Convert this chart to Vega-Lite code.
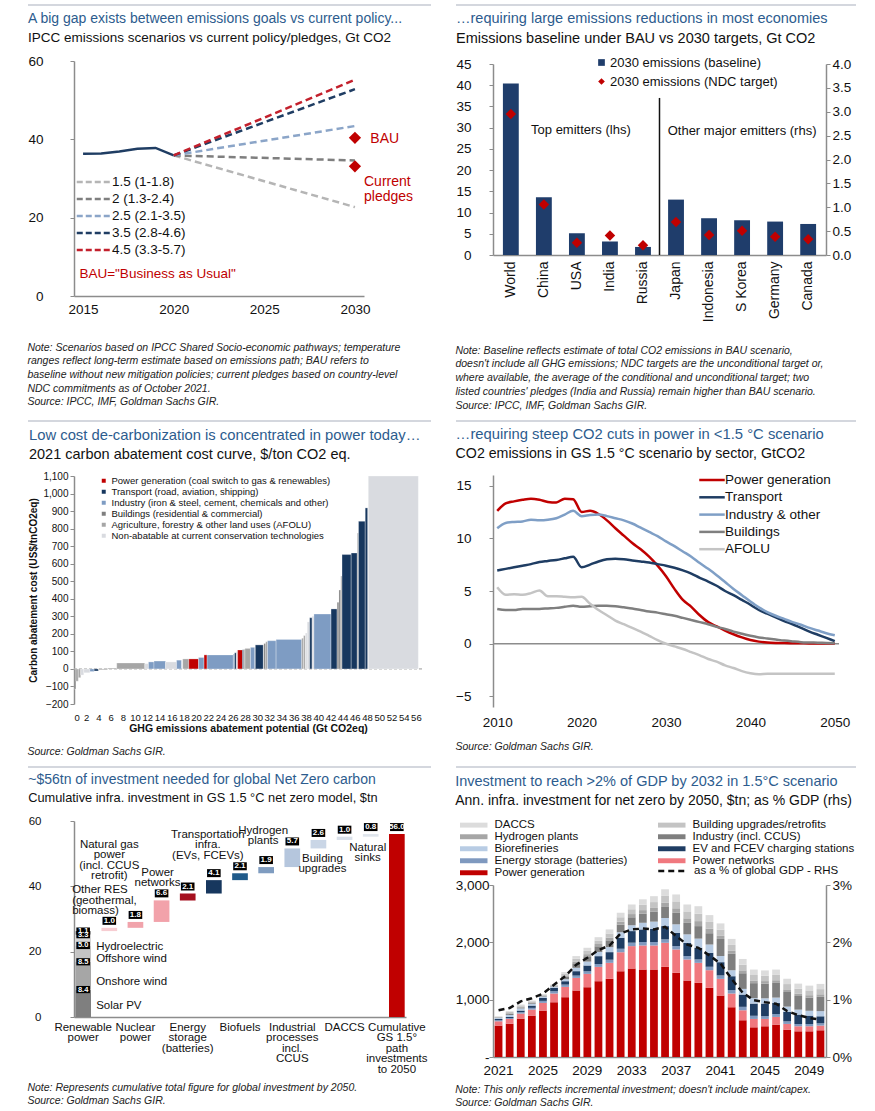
{
  "$schema": "https://vega.github.io/schema/vega-lite/v6.json",
  "background": "white",
  "padding": {"left": 27, "top": 4, "right": 0, "bottom": 0},
  "config": {
    "font": "Liberation Sans",
    "view": {"stroke": null},
    "axis": {"grid": false, "domainColor": "#8c8c8c", "tickColor": "#8c8c8c", "domainWidth": 1.5, "tickSize": 4, "labelColor": "#111", "titleColor": "#111", "labelFont": "Liberation Sans", "titleFont": "Liberation Sans"},
    "legend": {"labelFont": "Liberation Sans", "labelColor": "#111", "titleFont": "Liberation Sans"},
    "title": {"font": "Liberation Sans", "subtitleFont": "Liberation Sans", "anchor": "start", "fontWeight": "normal", "fontSize": 14.5, "subtitleFontSize": 14.5, "color": "#2d5c8e", "subtitleColor": "#111", "subtitlePadding": 5, "offset": 10},
    "text": {"font": "Liberation Sans"}
  },
  "resolve": {"scale": {"color": "independent", "strokeDash": "independent", "shape": "independent"}, "legend": {"color": "independent", "strokeDash": "independent"}},
  "columns": 2,
  "spacing": {"row": 8, "column": 23},
  "concat": [
    {
      "spacing": 5,
      "resolve": {"scale": {"color": "independent", "strokeDash": "independent"}, "legend": {"color": "independent", "strokeDash": "independent"}},
      "title": {"text": ["Note: Scenarios based on IPCC Shared Socio-economic pathways; temperature", "ranges reflect long-term estimate based on emissions path; BAU refers to", "baseline without new mitigation policies; current pledges based on country-level", "NDC commitments as of October 2021.", "Source: IPCC, IMF, Goldman Sachs GIR."], "orient": "bottom", "anchor": "start", "fontSize": 10.5, "fontStyle": "italic", "color": "#222", "lineHeight": 13.7, "offset": 27},
      "vconcat": [
        {"width": 357, "height": 1, "data": {"values": [{"a": -0.1289, "b": 1}]}, "mark": {"type": "rule", "color": "#a9b0bd", "strokeWidth": 1.2}, "encoding": {"x": {"field": "a", "type": "quantitative", "scale": {"domain": [0, 1]}, "axis": null}, "x2": {"field": "b"}, "y": {"datum": 0, "type": "quantitative", "scale": {"domain": [0, 1]}, "axis": null}}},
        {
          "width": 290, "height": 235,
          "title": {"text": "A big gap exists between emissions goals vs current policy...", "subtitle": "IPCC emissions scenarios vs current policy/pledges, Gt CO2", "fontSize": 14, "subtitleFontSize": 13.5},
          "layer": [
            {"data": {"values": [{"year": 2015, "v": 36.3}, {"year": 2016, "v": 36.4}, {"year": 2017, "v": 36.9}, {"year": 2018, "v": 37.6}, {"year": 2019, "v": 37.8}, {"year": 2020, "v": 35.9}]},
             "mark": {"type": "line", "color": "#1f3d63", "strokeWidth": 2.5},
             "encoding": {"x": {"field": "year", "type": "quantitative", "scale": {"domain": [2014.5, 2030.5], "nice": false}, "axis": {"values": [2015, 2020, 2025, 2030], "format": "d", "title": null, "labelFontSize": 13.5, "ticks": false, "labelPadding": 6}},
                          "y": {"field": "v", "type": "quantitative", "scale": {"domain": [0, 60]}, "axis": {"values": [0, 10, 20, 30, 40, 50, 60], "title": null, "labelFontSize": 13.5, "labelPadding": 27}}}},
            {"data": {"values": [
              {"s": "1.5 (1-1.8)", "year": 2020, "v": 35.9}, {"s": "1.5 (1-1.8)", "year": 2030, "v": 22.7},
              {"s": "2 (1.3-2.4)", "year": 2020, "v": 35.9}, {"s": "2 (1.3-2.4)", "year": 2030, "v": 34.6},
              {"s": "2.5 (2.1-3.5)", "year": 2020, "v": 35.9}, {"s": "2.5 (2.1-3.5)", "year": 2030, "v": 43.4},
              {"s": "3.5 (2.8-4.6)", "year": 2020, "v": 35.9}, {"s": "3.5 (2.8-4.6)", "year": 2030, "v": 52.8},
              {"s": "4.5 (3.3-5.7)", "year": 2020, "v": 35.9}, {"s": "4.5 (3.3-5.7)", "year": 2030, "v": 55.2}]},
             "mark": {"type": "line", "strokeWidth": 2.5, "strokeDash": [7, 4]},
             "encoding": {"x": {"field": "year", "type": "quantitative"}, "y": {"field": "v", "type": "quantitative"},
                          "color": {"field": "s", "type": "nominal", "scale": {"domain": ["1.5 (1-1.8)", "2 (1.3-2.4)", "2.5 (2.1-3.5)", "3.5 (2.8-4.6)", "4.5 (3.3-5.7)"], "range": ["#b5b5b5", "#7f7f7f", "#8ba5c8", "#1f3d63", "#c3202c"]},
                                    "legend": {"orient": "none", "legendX": 11, "legendY": 112, "title": null, "symbolType": "M-2.3,0L2.3,0", "symbolDash": [6, 3], "symbolStrokeWidth": 2.5, "symbolSize": 225, "labelFontSize": 13.5, "rowPadding": 1, "labelOffset": 9}}}},
            {"data": {"values": [{"year": 2030, "v": 40.4}, {"year": 2030, "v": 33.1}]},
             "mark": {"type": "point", "shape": "diamond", "filled": true, "color": "#c00000", "size": 150, "opacity": 1},
             "encoding": {"x": {"field": "year", "type": "quantitative"}, "y": {"field": "v", "type": "quantitative"}}},
            {"data": {"values": [{}]}, "mark": {"type": "text", "align": "left", "color": "#c00000", "fontSize": 14, "text": "BAU"}, "encoding": {"x": {"datum": 2030.85}, "y": {"datum": 40.2}}},
            {"data": {"values": [{}]}, "mark": {"type": "text", "align": "left", "color": "#c00000", "fontSize": 14, "text": ["Current", "pledges"], "lineHeight": 15}, "encoding": {"x": {"datum": 2030.5}, "y": {"datum": 29.0}}},
            {"data": {"values": [{}]}, "mark": {"type": "text", "align": "left", "color": "#c00000", "fontSize": 13.5, "text": "BAU=\"Business as Usual\""}, "encoding": {"x": {"datum": 2014.8}, "y": {"datum": 5.5}}}
          ]
        }
      ]
    },
    {
      "spacing": 5,
      "resolve": {"scale": {"color": "independent", "strokeDash": "independent"}, "legend": {"color": "independent", "strokeDash": "independent"}},
      "title": {"text": ["Note: Baseline reflects estimate of total CO2 emissions in BAU scenario,", "doesn't include all GHG emissions; NDC targets are the unconditional target or,", "where available, the average of the conditional and unconditional target; two", "listed countries' pledges (India and Russia) remain higher than BAU scenario.", "Source: IPCC, IMF, Goldman Sachs GIR."], "orient": "bottom", "anchor": "start", "fontSize": 10.5, "fontStyle": "italic", "color": "#222", "lineHeight": 13.7, "offset": 24},
      "vconcat": [
        {"width": 363, "height": 1, "data": {"values": [{"a": -0.1019, "b": 1}]}, "mark": {"type": "rule", "color": "#a9b0bd", "strokeWidth": 1.2}, "encoding": {"x": {"field": "a", "type": "quantitative", "scale": {"domain": [0, 1]}, "axis": null}, "x2": {"field": "b"}, "y": {"datum": 0, "type": "quantitative", "scale": {"domain": [0, 1]}, "axis": null}}},
        {
          "width": 333, "height": 191,
          "title": {"text": "…requiring large emissions reductions in most economies", "subtitle": "Emissions baseline under BAU vs 2030 targets, Gt CO2"},
          "resolve": {"scale": {"x": "independent", "y": "independent"}},
          "layer": [
            {"data": {"values": [{"c": "World", "base": 40.4, "ndc": 33.2}, {"c": "China", "base": 13.6, "ndc": 11.9}, {"c": "USA", "base": 5.1, "ndc": 2.9}, {"c": "India", "base": 3.2, "ndc": 4.6}, {"c": "Russia", "base": 1.9, "ndc": 2.3}]},
             "encoding": {"x": {"field": "c", "type": "nominal", "sort": null, "scale": {"domain": ["World", "China", "USA", "India", "Russia", "Japan", "Indonesia", "S Korea", "Germany", "Canada"], "paddingInner": 0.52, "paddingOuter": 0.3}, "axis": {"title": null, "labelAngle": 270, "labelFontSize": 14, "ticks": false, "labelPadding": 6}}},
             "layer": [
               {"mark": {"type": "bar"}, "encoding": {"y": {"field": "base", "type": "quantitative", "scale": {"domain": [0, 45]}, "axis": {"values": [0, 5, 10, 15, 20, 25, 30, 35, 40, 45], "title": null, "labelFontSize": 13.5, "labelOverlap": false, "labelPadding": 18}},
                 "color": {"datum": "2030 emissions (baseline)", "type": "nominal", "scale": {"domain": ["2030 emissions (baseline)", "2030 emissions (NDC target)"], "range": ["#1f3d6b", "#c00000"]},
                   "legend": {"orient": "none", "legendX": 102, "legendY": -8, "title": null, "symbolType": "square", "symbolSize": 45, "labelFontSize": 13, "rowPadding": 5, "labelOffset": 2, "symbolOpacity": 1, "labelLimit": 300,
                     "encode": {"symbols": {"update": {"shape": {"signal": "datum.label == '2030 emissions (NDC target)' ? 'diamond' : 'square'"}}}}}}}},
               {"mark": {"type": "point", "shape": "diamond", "filled": true, "size": 110, "opacity": 1}, "encoding": {"y": {"field": "ndc", "type": "quantitative", "axis": {"values": [0, 5, 10, 15, 20, 25, 30, 35, 40, 45], "title": null, "labelFontSize": 13.5, "labelOverlap": false, "labelPadding": 18}}, "color": {"datum": "2030 emissions (NDC target)", "type": "nominal"}}}
             ]},
            {"data": {"values": [{"c": "Japan", "base": 1.16, "ndc": 0.69}, {"c": "Indonesia", "base": 0.77, "ndc": 0.42}, {"c": "S Korea", "base": 0.73, "ndc": 0.51}, {"c": "Germany", "base": 0.70, "ndc": 0.38}, {"c": "Canada", "base": 0.65, "ndc": 0.33}]},
             "encoding": {"x": {"field": "c", "type": "nominal", "sort": null, "scale": {"domain": ["World", "China", "USA", "India", "Russia", "Japan", "Indonesia", "S Korea", "Germany", "Canada"], "paddingInner": 0.52, "paddingOuter": 0.3}, "axis": null}},
             "layer": [
               {"mark": {"type": "bar"}, "encoding": {"y": {"field": "base", "type": "quantitative", "scale": {"domain": [0, 4]}, "axis": {"orient": "right", "values": [0, 0.5, 1, 1.5, 2, 2.5, 3, 3.5, 4], "format": ".1f", "title": null, "labelFontSize": 13.5, "labelOverlap": false}},
                 "color": {"datum": "2030 emissions (baseline)", "type": "nominal"}}},
               {"mark": {"type": "point", "shape": "diamond", "filled": true, "size": 110, "opacity": 1}, "encoding": {"y": {"field": "ndc", "type": "quantitative", "axis": {"orient": "right", "values": [0, 0.5, 1, 1.5, 2, 2.5, 3, 3.5, 4], "format": ".1f", "title": null, "labelFontSize": 13.5, "labelOverlap": false}}, "color": {"datum": "2030 emissions (NDC target)", "type": "nominal"}}}
             ]},
            {"data": {"values": [{"a": 1}]},
             "encoding": {"x": {"datum": 0.5, "type": "quantitative", "scale": {"domain": [0, 1]}, "axis": null}},
             "layer": [
               {"mark": {"type": "rule", "color": "#111", "strokeWidth": 1.5}, "encoding": {"y": {"datum": 37, "type": "quantitative", "scale": {"domain": [0, 45]}, "axis": null}, "y2": {"datum": 0}}},
               {"mark": {"type": "text", "fontSize": 13, "color": "#111", "text": "Top emitters (lhs)"}, "encoding": {"x": {"datum": 0.264, "type": "quantitative"}, "y": {"datum": 29.5, "type": "quantitative"}}},
               {"mark": {"type": "text", "fontSize": 13, "color": "#111", "text": "Other major emitters (rhs)"}, "encoding": {"x": {"datum": 0.748, "type": "quantitative"}, "y": {"datum": 29.3, "type": "quantitative"}}}
             ]}
          ]
        }
      ]
    },
    {
      "spacing": 5,
      "resolve": {"scale": {"color": "independent", "strokeDash": "independent"}, "legend": {"color": "independent", "strokeDash": "independent"}},
      "title": {"text": ["Source: Goldman Sachs GIR."], "orient": "bottom", "anchor": "start", "fontSize": 10.5, "fontStyle": "italic", "color": "#222", "lineHeight": 13.5, "offset": 13},
      "vconcat": [
        {"width": 357, "height": 1, "data": {"values": [{"a": -0.1289, "b": 1}]}, "mark": {"type": "rule", "color": "#a9b0bd", "strokeWidth": 1.2}, "encoding": {"x": {"field": "a", "type": "quantitative", "scale": {"domain": [0, 1]}, "axis": null}, "x2": {"field": "b"}, "y": {"datum": 0, "type": "quantitative", "scale": {"domain": [0, 1]}, "axis": null}}},
        {
          "width": 348, "height": 228,
          "title": {"text": "Low cost de-carbonization is concentrated in power today…", "subtitle": "2021 carbon abatement cost curve, $/ton CO2 eq.", "fontSize": 14.8},
          "layer": [
            {"data": {"values": [{}]}, "mark": {"type": "rule", "color": "#9a9a9a", "strokeWidth": 1, "strokeDash": [3, 2]}, "encoding": {"y": {"datum": 0, "type": "quantitative", "scale": {"domain": [-200, 1100], "nice": false}, "axis": {"values": [-200, -100, 0, 100, 200, 300, 400, 500, 600, 700, 800, 900, 1000, 1100], "format": ",d", "title": "Carbon abatement cost (US$/tnCO2eq)", "titleFontSize": 10, "titleFontWeight": "bold", "titlePadding": 4, "labelFontSize": 10, "labelOverlap": false}}}},
            {"data": {"values": [
              {"x0": 0.0, "x1": 0.3, "c": -115, "cat": "B"}, {"x0": 0.3, "x1": 0.7, "c": -70, "cat": "A"}, {"x0": 0.7, "x1": 1.1, "c": -50, "cat": "A"},
              {"x0": 1.1, "x1": 1.6, "c": -35, "cat": "N"}, {"x0": 1.6, "x1": 2.6, "c": -22, "cat": "N"}, {"x0": 2.6, "x1": 3.3, "c": -15, "cat": "I"},
              {"x0": 3.3, "x1": 4.0, "c": -12, "cat": "T"}, {"x0": 4.0, "x1": 5.5, "c": -5, "cat": "A"}, {"x0": 5.5, "x1": 7.0, "c": 5, "cat": "A"},
              {"x0": 7.0, "x1": 11.6, "c": 34, "cat": "A"}, {"x0": 11.6, "x1": 12.2, "c": 30, "cat": "N"}, {"x0": 12.2, "x1": 13.1, "c": 40, "cat": "I"},
              {"x0": 13.1, "x1": 15.0, "c": 45, "cat": "I"}, {"x0": 15.0, "x1": 16.8, "c": 40, "cat": "N"}, {"x0": 16.8, "x1": 17.6, "c": 50, "cat": "I"},
              {"x0": 17.8, "x1": 18.8, "c": 57, "cat": "A"}, {"x0": 18.8, "x1": 20.4, "c": 57, "cat": "P"}, {"x0": 20.4, "x1": 21.3, "c": 65, "cat": "I"},
              {"x0": 21.3, "x1": 21.8, "c": 80, "cat": "P"}, {"x0": 21.8, "x1": 26.1, "c": 80, "cat": "I"}, {"x0": 26.1, "x1": 26.3, "c": 85, "cat": "I"},
              {"x0": 26.3, "x1": 26.6, "c": 92, "cat": "T"}, {"x0": 26.6, "x1": 26.8, "c": 100, "cat": "N"}, {"x0": 26.8, "x1": 27.6, "c": 108, "cat": "P"},
              {"x0": 27.6, "x1": 27.8, "c": 110, "cat": "T"}, {"x0": 27.8, "x1": 28.0, "c": 112, "cat": "A"}, {"x0": 28.0, "x1": 28.9, "c": 117, "cat": "A"},
              {"x0": 28.9, "x1": 29.6, "c": 123, "cat": "I"}, {"x0": 29.7, "x1": 31.0, "c": 137, "cat": "T"}, {"x0": 31.1, "x1": 31.4, "c": 145, "cat": "B"},
              {"x0": 31.4, "x1": 31.7, "c": 155, "cat": "A"}, {"x0": 31.7, "x1": 33.1, "c": 161, "cat": "I"}, {"x0": 33.1, "x1": 37.3, "c": 168, "cat": "I"},
              {"x0": 37.3, "x1": 37.6, "c": 175, "cat": "A"}, {"x0": 37.6, "x1": 37.9, "c": 190, "cat": "A"}, {"x0": 37.9, "x1": 38.2, "c": 205, "cat": "N"},
              {"x0": 38.2, "x1": 38.6, "c": 268, "cat": "N"}, {"x0": 38.6, "x1": 39.0, "c": 292, "cat": "T"}, {"x0": 39.0, "x1": 39.3, "c": 300, "cat": "N"},
              {"x0": 39.3, "x1": 42.1, "c": 313, "cat": "I"}, {"x0": 42.1, "x1": 43.1, "c": 342, "cat": "T"}, {"x0": 43.1, "x1": 43.4, "c": 380, "cat": "B"},
              {"x0": 43.4, "x1": 43.7, "c": 450, "cat": "B"}, {"x0": 43.7, "x1": 43.9, "c": 530, "cat": "A"}, {"x0": 43.9, "x1": 45.4, "c": 652, "cat": "T"},
              {"x0": 45.4, "x1": 46.4, "c": 661, "cat": "T"}, {"x0": 46.4, "x1": 46.6, "c": 775, "cat": "A"}, {"x0": 46.6, "x1": 47.7, "c": 842, "cat": "T"},
              {"x0": 47.7, "x1": 48.1, "c": 918, "cat": "T"}, {"x0": 48.2, "x1": 56.4, "c": 1100, "cat": "N"}]},
             "mark": {"type": "rect", "stroke": "white", "strokeWidth": 0.3},
             "encoding": {
               "x": {"field": "x0", "type": "quantitative", "scale": {"domain": [0, 57], "nice": false}, "axis": {"values": [0, 2, 4, 6, 8, 10, 12, 14, 16, 18, 20, 22, 24, 26, 28, 30, 32, 34, 36, 38, 40, 42, 44, 46, 48, 50, 52, 54, 56], "title": "GHG emissions abatement potential (Gt CO2eq)", "titleFontSize": 10.5, "titleFontWeight": "bold", "titlePadding": 2, "labelFontSize": 9.5, "domain": false, "ticks": false, "labelPadding": 8, "labelOverlap": false}},
               "x2": {"field": "x1"},
               "y": {"field": "c", "type": "quantitative", "axis": {"values": [-200, -100, 0, 100, 200, 300, 400, 500, 600, 700, 800, 900, 1000, 1100], "format": ",d", "title": "Carbon abatement cost (US$/tnCO2eq)", "titleFontSize": 10, "titleFontWeight": "bold", "titlePadding": 4, "labelFontSize": 10, "labelOverlap": false}},
               "y2": {"datum": 0},
               "color": {"field": "cat", "type": "nominal", "scale": {"domain": ["P", "T", "I", "B", "A", "N"], "range": ["#c00000", "#17375e", "#7e9cc3", "#7f7f7f", "#a6a6a6", "#d9dbe0"]},
                 "legend": {"orient": "none", "legendX": 25, "legendY": 0, "title": null, "symbolType": "square", "symbolSize": 30, "labelFontSize": 9.5, "rowPadding": -3, "labelOffset": 3, "symbolOpacity": 1, "labelLimit": 300,
                   "labelExpr": "{'P': 'Power generation (coal switch to gas & renewables)', 'T': 'Transport (road, aviation, shipping)', 'I': 'Industry (iron & steel, cement, chemicals and other)', 'B': 'Buildings (residential & commercial)', 'A': 'Agriculture, forestry & other land uses (AFOLU)', 'N': 'Non-abatable at current conservation technologies'}[datum.label]"}}
             }}
          ]
        }
      ]
    },
    {
      "spacing": 5,
      "resolve": {"scale": {"color": "independent", "strokeDash": "independent"}, "legend": {"color": "independent", "strokeDash": "independent"}},
      "title": {"text": ["Source: Goldman Sachs GIR."], "orient": "bottom", "anchor": "start", "fontSize": 10.5, "fontStyle": "italic", "color": "#222", "lineHeight": 13.5, "offset": 13},
      "vconcat": [
        {"width": 363, "height": 1, "data": {"values": [{"a": -0.1019, "b": 1}]}, "mark": {"type": "rule", "color": "#a9b0bd", "strokeWidth": 1.2}, "encoding": {"x": {"field": "a", "type": "quantitative", "scale": {"domain": [0, 1]}, "axis": null}, "x2": {"field": "b"}, "y": {"datum": 0, "type": "quantitative", "scale": {"domain": [0, 1]}, "axis": null}}},
        {
          "width": 346, "height": 232,
          "title": {"text": "…requiring steep CO2 cuts in power in <1.5 °C scenario", "subtitle": "CO2 emissions in GS 1.5 °C scenario by sector, GtCO2", "fontSize": 14.8, "subtitleFontSize": 14.2},
          "layer": [
            {"data": {"values": [{}]}, "mark": {"type": "rule", "color": "#8c8c8c", "strokeWidth": 1.5}, "encoding": {"y": {"datum": 0, "type": "quantitative", "scale": {"domain": [-5, 15]}, "axis": {"values": [-5, 0, 5, 10, 15], "title": null, "labelFontSize": 13.5, "labelPadding": 18}}}},
            {"data": {"values": [
              {"s": "Power generation", "y": 2010, "v": 12.6}, {"s": "Power generation", "y": 2011, "v": 13.3}, {"s": "Power generation", "y": 2012, "v": 13.5}, {"s": "Power generation", "y": 2013, "v": 13.65}, {"s": "Power generation", "y": 2014, "v": 13.75}, {"s": "Power generation", "y": 2015, "v": 13.65}, {"s": "Power generation", "y": 2016, "v": 13.45}, {"s": "Power generation", "y": 2017, "v": 13.4}, {"s": "Power generation", "y": 2018, "v": 13.75}, {"s": "Power generation", "y": 2019, "v": 13.7}, {"s": "Power generation", "y": 2020, "v": 12.5}, {"s": "Power generation", "y": 2021, "v": 12.6}, {"s": "Power generation", "y": 2022, "v": 12.3}, {"s": "Power generation", "y": 2023, "v": 11.7}, {"s": "Power generation", "y": 2024, "v": 10.95}, {"s": "Power generation", "y": 2025, "v": 10.25}, {"s": "Power generation", "y": 2026, "v": 9.55}, {"s": "Power generation", "y": 2027, "v": 8.95}, {"s": "Power generation", "y": 2028, "v": 8.25}, {"s": "Power generation", "y": 2029, "v": 7.4}, {"s": "Power generation", "y": 2030, "v": 6.4}, {"s": "Power generation", "y": 2031, "v": 5.2}, {"s": "Power generation", "y": 2032, "v": 4.15}, {"s": "Power generation", "y": 2033, "v": 3.5}, {"s": "Power generation", "y": 2034, "v": 2.7}, {"s": "Power generation", "y": 2035, "v": 2.05}, {"s": "Power generation", "y": 2036, "v": 1.65}, {"s": "Power generation", "y": 2037, "v": 1.25}, {"s": "Power generation", "y": 2038, "v": 0.9}, {"s": "Power generation", "y": 2039, "v": 0.6}, {"s": "Power generation", "y": 2040, "v": 0.35}, {"s": "Power generation", "y": 2041, "v": 0.2}, {"s": "Power generation", "y": 2042, "v": 0.12}, {"s": "Power generation", "y": 2043, "v": 0.08}, {"s": "Power generation", "y": 2044, "v": 0.06}, {"s": "Power generation", "y": 2045, "v": 0.05}, {"s": "Power generation", "y": 2046, "v": 0.04}, {"s": "Power generation", "y": 2047, "v": 0.03}, {"s": "Power generation", "y": 2048, "v": 0.03}, {"s": "Power generation", "y": 2049, "v": 0.02}, {"s": "Power generation", "y": 2050, "v": 0.02},
              {"s": "Transport", "y": 2010, "v": 6.95}, {"s": "Transport", "y": 2011, "v": 7.1}, {"s": "Transport", "y": 2012, "v": 7.25}, {"s": "Transport", "y": 2013, "v": 7.4}, {"s": "Transport", "y": 2014, "v": 7.55}, {"s": "Transport", "y": 2015, "v": 7.75}, {"s": "Transport", "y": 2016, "v": 7.85}, {"s": "Transport", "y": 2017, "v": 7.95}, {"s": "Transport", "y": 2018, "v": 8.1}, {"s": "Transport", "y": 2019, "v": 8.25}, {"s": "Transport", "y": 2020, "v": 7.25}, {"s": "Transport", "y": 2021, "v": 7.5}, {"s": "Transport", "y": 2022, "v": 7.8}, {"s": "Transport", "y": 2023, "v": 8.0}, {"s": "Transport", "y": 2024, "v": 8.05}, {"s": "Transport", "y": 2025, "v": 8.0}, {"s": "Transport", "y": 2026, "v": 7.9}, {"s": "Transport", "y": 2027, "v": 7.8}, {"s": "Transport", "y": 2028, "v": 7.7}, {"s": "Transport", "y": 2029, "v": 7.55}, {"s": "Transport", "y": 2030, "v": 7.4}, {"s": "Transport", "y": 2031, "v": 7.2}, {"s": "Transport", "y": 2032, "v": 6.95}, {"s": "Transport", "y": 2033, "v": 6.65}, {"s": "Transport", "y": 2034, "v": 6.25}, {"s": "Transport", "y": 2035, "v": 5.9}, {"s": "Transport", "y": 2036, "v": 5.5}, {"s": "Transport", "y": 2037, "v": 5.0}, {"s": "Transport", "y": 2038, "v": 4.6}, {"s": "Transport", "y": 2039, "v": 4.15}, {"s": "Transport", "y": 2040, "v": 3.7}, {"s": "Transport", "y": 2041, "v": 3.2}, {"s": "Transport", "y": 2042, "v": 2.85}, {"s": "Transport", "y": 2043, "v": 2.5}, {"s": "Transport", "y": 2044, "v": 2.15}, {"s": "Transport", "y": 2045, "v": 1.85}, {"s": "Transport", "y": 2046, "v": 1.5}, {"s": "Transport", "y": 2047, "v": 1.15}, {"s": "Transport", "y": 2048, "v": 0.85}, {"s": "Transport", "y": 2049, "v": 0.55}, {"s": "Transport", "y": 2050, "v": 0.25},
              {"s": "Industry & other", "y": 2010, "v": 10.95}, {"s": "Industry & other", "y": 2011, "v": 11.45}, {"s": "Industry & other", "y": 2012, "v": 11.55}, {"s": "Industry & other", "y": 2013, "v": 11.6}, {"s": "Industry & other", "y": 2014, "v": 11.75}, {"s": "Industry & other", "y": 2015, "v": 11.7}, {"s": "Industry & other", "y": 2016, "v": 11.75}, {"s": "Industry & other", "y": 2017, "v": 11.9}, {"s": "Industry & other", "y": 2018, "v": 12.25}, {"s": "Industry & other", "y": 2019, "v": 12.6}, {"s": "Industry & other", "y": 2020, "v": 12.1}, {"s": "Industry & other", "y": 2021, "v": 12.2}, {"s": "Industry & other", "y": 2022, "v": 12.25}, {"s": "Industry & other", "y": 2023, "v": 12.1}, {"s": "Industry & other", "y": 2024, "v": 11.9}, {"s": "Industry & other", "y": 2025, "v": 11.7}, {"s": "Industry & other", "y": 2026, "v": 11.4}, {"s": "Industry & other", "y": 2027, "v": 11.0}, {"s": "Industry & other", "y": 2028, "v": 10.6}, {"s": "Industry & other", "y": 2029, "v": 10.2}, {"s": "Industry & other", "y": 2030, "v": 9.7}, {"s": "Industry & other", "y": 2031, "v": 9.25}, {"s": "Industry & other", "y": 2032, "v": 8.75}, {"s": "Industry & other", "y": 2033, "v": 8.25}, {"s": "Industry & other", "y": 2034, "v": 7.65}, {"s": "Industry & other", "y": 2035, "v": 7.1}, {"s": "Industry & other", "y": 2036, "v": 6.5}, {"s": "Industry & other", "y": 2037, "v": 5.85}, {"s": "Industry & other", "y": 2038, "v": 5.2}, {"s": "Industry & other", "y": 2039, "v": 4.6}, {"s": "Industry & other", "y": 2040, "v": 4.0}, {"s": "Industry & other", "y": 2041, "v": 3.45}, {"s": "Industry & other", "y": 2042, "v": 3.0}, {"s": "Industry & other", "y": 2043, "v": 2.65}, {"s": "Industry & other", "y": 2044, "v": 2.35}, {"s": "Industry & other", "y": 2045, "v": 2.05}, {"s": "Industry & other", "y": 2046, "v": 1.8}, {"s": "Industry & other", "y": 2047, "v": 1.5}, {"s": "Industry & other", "y": 2048, "v": 1.25}, {"s": "Industry & other", "y": 2049, "v": 1.0}, {"s": "Industry & other", "y": 2050, "v": 0.8},
              {"s": "Buildings", "y": 2010, "v": 3.3}, {"s": "Buildings", "y": 2011, "v": 3.2}, {"s": "Buildings", "y": 2012, "v": 3.2}, {"s": "Buildings", "y": 2013, "v": 3.3}, {"s": "Buildings", "y": 2014, "v": 3.3}, {"s": "Buildings", "y": 2015, "v": 3.3}, {"s": "Buildings", "y": 2016, "v": 3.35}, {"s": "Buildings", "y": 2017, "v": 3.4}, {"s": "Buildings", "y": 2018, "v": 3.5}, {"s": "Buildings", "y": 2019, "v": 3.6}, {"s": "Buildings", "y": 2020, "v": 3.5}, {"s": "Buildings", "y": 2021, "v": 3.55}, {"s": "Buildings", "y": 2022, "v": 3.6}, {"s": "Buildings", "y": 2023, "v": 3.6}, {"s": "Buildings", "y": 2024, "v": 3.55}, {"s": "Buildings", "y": 2025, "v": 3.45}, {"s": "Buildings", "y": 2026, "v": 3.35}, {"s": "Buildings", "y": 2027, "v": 3.2}, {"s": "Buildings", "y": 2028, "v": 3.05}, {"s": "Buildings", "y": 2029, "v": 2.95}, {"s": "Buildings", "y": 2030, "v": 2.8}, {"s": "Buildings", "y": 2031, "v": 2.65}, {"s": "Buildings", "y": 2032, "v": 2.45}, {"s": "Buildings", "y": 2033, "v": 2.25}, {"s": "Buildings", "y": 2034, "v": 2.05}, {"s": "Buildings", "y": 2035, "v": 1.85}, {"s": "Buildings", "y": 2036, "v": 1.6}, {"s": "Buildings", "y": 2037, "v": 1.4}, {"s": "Buildings", "y": 2038, "v": 1.15}, {"s": "Buildings", "y": 2039, "v": 0.95}, {"s": "Buildings", "y": 2040, "v": 0.75}, {"s": "Buildings", "y": 2041, "v": 0.6}, {"s": "Buildings", "y": 2042, "v": 0.5}, {"s": "Buildings", "y": 2043, "v": 0.4}, {"s": "Buildings", "y": 2044, "v": 0.3}, {"s": "Buildings", "y": 2045, "v": 0.22}, {"s": "Buildings", "y": 2046, "v": 0.15}, {"s": "Buildings", "y": 2047, "v": 0.12}, {"s": "Buildings", "y": 2048, "v": 0.1}, {"s": "Buildings", "y": 2049, "v": 0.07}, {"s": "Buildings", "y": 2050, "v": 0.05},
              {"s": "AFOLU", "y": 2010, "v": 5.35}, {"s": "AFOLU", "y": 2011, "v": 4.65}, {"s": "AFOLU", "y": 2012, "v": 4.7}, {"s": "AFOLU", "y": 2013, "v": 4.65}, {"s": "AFOLU", "y": 2014, "v": 4.8}, {"s": "AFOLU", "y": 2015, "v": 5.05}, {"s": "AFOLU", "y": 2016, "v": 4.5}, {"s": "AFOLU", "y": 2017, "v": 4.5}, {"s": "AFOLU", "y": 2018, "v": 4.45}, {"s": "AFOLU", "y": 2019, "v": 4.4}, {"s": "AFOLU", "y": 2020, "v": 4.45}, {"s": "AFOLU", "y": 2021, "v": 3.8}, {"s": "AFOLU", "y": 2022, "v": 3.2}, {"s": "AFOLU", "y": 2023, "v": 2.7}, {"s": "AFOLU", "y": 2024, "v": 2.2}, {"s": "AFOLU", "y": 2025, "v": 1.85}, {"s": "AFOLU", "y": 2026, "v": 1.5}, {"s": "AFOLU", "y": 2027, "v": 1.15}, {"s": "AFOLU", "y": 2028, "v": 0.75}, {"s": "AFOLU", "y": 2029, "v": 0.35}, {"s": "AFOLU", "y": 2030, "v": 0.0}, {"s": "AFOLU", "y": 2031, "v": -0.25}, {"s": "AFOLU", "y": 2032, "v": -0.5}, {"s": "AFOLU", "y": 2033, "v": -0.8}, {"s": "AFOLU", "y": 2034, "v": -1.1}, {"s": "AFOLU", "y": 2035, "v": -1.45}, {"s": "AFOLU", "y": 2036, "v": -1.7}, {"s": "AFOLU", "y": 2037, "v": -2.05}, {"s": "AFOLU", "y": 2038, "v": -2.3}, {"s": "AFOLU", "y": 2039, "v": -2.6}, {"s": "AFOLU", "y": 2040, "v": -2.8}, {"s": "AFOLU", "y": 2041, "v": -2.9}, {"s": "AFOLU", "y": 2042, "v": -2.85}, {"s": "AFOLU", "y": 2043, "v": -2.85}, {"s": "AFOLU", "y": 2044, "v": -2.85}, {"s": "AFOLU", "y": 2045, "v": -2.85}, {"s": "AFOLU", "y": 2046, "v": -2.85}, {"s": "AFOLU", "y": 2047, "v": -2.85}, {"s": "AFOLU", "y": 2048, "v": -2.85}, {"s": "AFOLU", "y": 2049, "v": -2.85}, {"s": "AFOLU", "y": 2050, "v": -2.85}]},
             "mark": {"type": "line", "strokeWidth": 2.5, "interpolate": "monotone"},
             "encoding": {
               "x": {"field": "y", "type": "quantitative", "scale": {"domain": [2009.5, 2050.5], "nice": false}, "axis": {"values": [2010, 2020, 2030, 2040, 2050], "format": "d", "title": null, "labelFontSize": 13.5, "domain": false, "ticks": false, "labelPadding": 8}},
               "y": {"field": "v", "type": "quantitative", "axis": {"values": [-5, 0, 5, 10, 15], "title": null, "labelFontSize": 13.5, "labelPadding": 18}},
               "color": {"field": "s", "type": "nominal", "scale": {"domain": ["Power generation", "Transport", "Industry & other", "Buildings", "AFOLU"], "range": ["#c00000", "#1f3d63", "#7f9fc6", "#7f7f7f", "#c4c4c4"]},
                 "legend": {"orient": "none", "legendX": 210, "legendY": -4, "title": null, "symbolType": "M-1.7,0L1.7,0", "symbolStrokeWidth": 2.5, "symbolSize": 225, "labelFontSize": 13.5, "rowPadding": 1.3, "labelOffset": 4}}
             }}
          ]
        }
      ]
    },
    {
      "spacing": 5,
      "resolve": {"scale": {"color": "independent", "strokeDash": "independent"}, "legend": {"color": "independent", "strokeDash": "independent"}},
      "title": {"text": ["Note: Represents cumulative total figure for global investment by 2050.", "Source: Goldman Sachs GIR."], "orient": "bottom", "anchor": "start", "fontSize": 10.5, "fontStyle": "italic", "color": "#222", "lineHeight": 13.5, "offset": 8},
      "vconcat": [
        {"width": 357, "height": 1, "data": {"values": [{"a": -0.1289, "b": 1}]}, "mark": {"type": "rule", "color": "#a9b0bd", "strokeWidth": 1.2}, "encoding": {"x": {"field": "a", "type": "quantitative", "scale": {"domain": [0, 1]}, "axis": null}, "x2": {"field": "b"}, "y": {"datum": 0, "type": "quantitative", "scale": {"domain": [0, 1]}, "axis": null}}},
        {
          "width": 332, "height": 196,
          "title": {"text": "~$56tn of investment needed for global Net Zero carbon", "subtitle": "Cumulative infra. investment in GS 1.5 °C net zero model, $tn", "fontSize": 14, "subtitleFontSize": 12.8},
          "encoding": {"x": {"field": "cat", "type": "nominal", "sort": null, "scale": {"domain": ["Renewable|power", "gas", "Nuclear|power", "networks", "Energy|storage|(batteries)", "transport", "Biofuels", "hydrogen", "Industrial|processes|incl.|CCUS", "building", "DACCS", "sinks", "Cumulative|GS 1.5°|path|investments|to 2050"], "paddingInner": 0.4, "paddingOuter": 0.05},
             "axis": {"title": null, "labelAngle": 0, "labelFontSize": 11.5, "labelLineHeight": 10.5, "ticks": false, "labelPadding": 4, "labelBaseline": "top", "labelExpr": "test(regexp('^[A-Z]'), datum.label) ? split(datum.label, '|') : ''"}}},
          "layer": [
            {"data": {"name": "inv", "values": [
              {"cat": "Renewable|power", "part": "Solar PV", "start": 0, "end": 8.4, "v": 8.4},
              {"cat": "Renewable|power", "part": "Onshore wind", "start": 8.4, "end": 16.9, "v": 8.5},
              {"cat": "Renewable|power", "part": "Offshore wind", "start": 16.9, "end": 21.9, "v": 5.0},
              {"cat": "Renewable|power", "part": "Hydroelectric", "start": 21.9, "end": 25.2, "v": 3.3},
              {"cat": "Renewable|power", "part": "Other RES", "start": 25.2, "end": 26.3, "v": 1.1},
              {"cat": "gas", "part": "Natural gas power", "start": 26.3, "end": 27.3, "v": 1.0},
              {"cat": "Nuclear|power", "part": "Nuclear power", "start": 27.3, "end": 29.1, "v": 1.8},
              {"cat": "networks", "part": "Power networks", "start": 29.1, "end": 35.7, "v": 6.6},
              {"cat": "Energy|storage|(batteries)", "part": "Energy storage", "start": 35.7, "end": 37.8, "v": 2.1},
              {"cat": "transport", "part": "Transportation infra", "start": 37.8, "end": 41.9, "v": 4.1},
              {"cat": "Biofuels", "part": "Biofuels", "start": 41.9, "end": 44.0, "v": 2.1},
              {"cat": "hydrogen", "part": "Hydrogen plants", "start": 44.0, "end": 45.9, "v": 1.9},
              {"cat": "Industrial|processes|incl.|CCUS", "part": "Industrial processes", "start": 45.9, "end": 51.6, "v": 5.7},
              {"cat": "building", "part": "Building upgrades", "start": 51.6, "end": 54.2, "v": 2.6},
              {"cat": "DACCS", "part": "DACCS", "start": 54.2, "end": 55.2, "v": 1.0},
              {"cat": "sinks", "part": "Natural sinks", "start": 55.2, "end": 56.0, "v": 0.8},
              {"cat": "Cumulative|GS 1.5°|path|investments|to 2050", "part": "Cumulative", "start": 0, "end": 56.0, "v": 56.0}]},
             "mark": {"type": "bar"},
             "encoding": {"y": {"field": "start", "type": "quantitative", "scale": {"domain": [0, 60]}, "axis": {"values": [0, 10, 20, 30, 40, 50, 60], "title": null, "labelFontSize": 11.5, "labelPadding": 29}}, "y2": {"field": "end"},
               "color": {"field": "part", "type": "nominal", "legend": null, "scale": {"domain": ["Solar PV", "Onshore wind", "Offshore wind", "Hydroelectric", "Other RES", "Natural gas power", "Nuclear power", "Power networks", "Energy storage", "Transportation infra", "Biofuels", "Hydrogen plants", "Industrial processes", "Building upgrades", "DACCS", "Natural sinks", "Cumulative"], "range": ["#7f7f7f", "#a6a6a6", "#c4c4c4", "#d6d6d6", "#9a9a9a", "#f7cdd2", "#f1a3ab", "#f2a2aa", "#a50f1e", "#17375e", "#1f5a8a", "#7f9cc0", "#b5c6dd", "#cad6e6", "#d9e0e9", "#dfe5ec", "#c00000"]}}}},
            {"data": {"name": "inv"},
             "transform": [{"filter": "datum.cat != 'Renewable|power'"}],
             "layer": [
               {"mark": {"type": "point", "shape": "M-1.7,-1L1.7,-1L1.7,1L-1.7,1Z", "filled": true, "color": "#000", "size": 64, "opacity": 1, "yOffset": -7}, "encoding": {"y": {"field": "end", "type": "quantitative"}}},
               {"mark": {"type": "text", "color": "white", "fontSize": 8, "fontWeight": "bold", "yOffset": -7}, "encoding": {"y": {"field": "end", "type": "quantitative"}, "text": {"field": "v", "type": "quantitative", "format": ".1f"}}}
             ]},
            {"data": {"name": "inv"},
             "transform": [{"filter": "datum.cat == 'Renewable|power'"}],
             "layer": [
               {"mark": {"type": "point", "shape": "M-1.7,-0.9L1.7,-0.9L1.7,0.9L-1.7,0.9Z", "filled": true, "color": "#000", "size": 64, "opacity": 1}, "encoding": {"y": {"field": "end", "type": "quantitative"}, "yOffset": {"field": "v", "type": "quantitative", "scale": {"domain": [0, 60], "range": [0, 110]}}}},
               {"mark": {"type": "text", "color": "white", "fontSize": 7.5, "fontWeight": "bold"}, "encoding": {"y": {"field": "end", "type": "quantitative"}, "yOffset": {"field": "v", "type": "quantitative", "scale": {"domain": [0, 60], "range": [0, 110]}}, "text": {"field": "v", "type": "quantitative", "format": ".1f"}}}
             ]},
            {"data": {"values": [{}]}, "mark": {"type": "text", "fontSize": 11.5, "color": "#111", "align": "left", "baseline": "top", "lineHeight": 10.5, "dx": -11, "text": ["Other RES", "(geothermal,", "biomass)"]}, "encoding": {"x": {"datum": "Renewable|power"}, "y": {"datum": 40.7, "type": "quantitative"}}},
            {"data": {"values": [{}]}, "mark": {"type": "text", "fontSize": 11.5, "color": "#111", "align": "left", "dx": 13, "text": "Hydroelectric"}, "encoding": {"x": {"datum": "Renewable|power"}, "y": {"datum": 21.4, "type": "quantitative"}}},
            {"data": {"values": [{}]}, "mark": {"type": "text", "fontSize": 11.5, "color": "#111", "align": "left", "dx": 13, "text": "Offshore wind"}, "encoding": {"x": {"datum": "Renewable|power"}, "y": {"datum": 17.8, "type": "quantitative"}}},
            {"data": {"values": [{}]}, "mark": {"type": "text", "fontSize": 11.5, "color": "#111", "align": "left", "dx": 13, "text": "Onshore wind"}, "encoding": {"x": {"datum": "Renewable|power"}, "y": {"datum": 10.7, "type": "quantitative"}}},
            {"data": {"values": [{}]}, "mark": {"type": "text", "fontSize": 11.5, "color": "#111", "align": "left", "dx": 13, "text": "Solar PV"}, "encoding": {"x": {"datum": "Renewable|power"}, "y": {"datum": 3.4, "type": "quantitative"}}},
            {"data": {"values": [{}]}, "mark": {"type": "text", "fontSize": 11.5, "color": "#111", "baseline": "top", "lineHeight": 10.5, "text": ["Natural gas", "power", "(incl. CCUS", "retrofit)"]}, "encoding": {"x": {"datum": "gas"}, "y": {"datum": 54.6, "type": "quantitative"}}},
            {"data": {"values": [{}]}, "mark": {"type": "text", "fontSize": 11.5, "color": "#111", "baseline": "top", "lineHeight": 10.5, "dx": -4, "text": ["Power", "networks"]}, "encoding": {"x": {"datum": "networks"}, "y": {"datum": 46.0, "type": "quantitative"}}},
            {"data": {"values": [{}]}, "mark": {"type": "text", "fontSize": 11.5, "color": "#111", "baseline": "top", "lineHeight": 10.5, "dx": -6, "text": ["Transportation", "infra.", "(EVs, FCEVs)"]}, "encoding": {"x": {"datum": "transport"}, "y": {"datum": 57.6, "type": "quantitative"}}},
            {"data": {"values": [{}]}, "mark": {"type": "text", "fontSize": 11.5, "color": "#111", "baseline": "top", "lineHeight": 10.5, "dx": -3, "text": ["Hydrogen", "plants"]}, "encoding": {"x": {"datum": "hydrogen"}, "y": {"datum": 58.9, "type": "quantitative"}}},
            {"data": {"values": [{}]}, "mark": {"type": "text", "fontSize": 11.5, "color": "#111", "baseline": "top", "lineHeight": 10.5, "dx": 4, "text": ["Building", "upgrades"]}, "encoding": {"x": {"datum": "building"}, "y": {"datum": 50.3, "type": "quantitative"}}},
            {"data": {"values": [{}]}, "mark": {"type": "text", "fontSize": 11.5, "color": "#111", "baseline": "top", "lineHeight": 10.5, "dx": -3, "text": ["Natural", "sinks"]}, "encoding": {"x": {"datum": "sinks"}, "y": {"datum": 53.7, "type": "quantitative"}}}
          ]
        }
      ]
    },
    {
      "spacing": 5,
      "resolve": {"scale": {"color": "independent", "strokeDash": "independent"}, "legend": {"color": "independent", "strokeDash": "independent"}},
      "title": {"text": ["Note: This only reflects incremental investment; doesn't include maint/capex.", "Source: Goldman Sachs GIR."], "orient": "bottom", "anchor": "start", "fontSize": 10.5, "fontStyle": "italic", "color": "#222", "lineHeight": 13.5, "offset": 8},
      "vconcat": [
        {"width": 363, "height": 1, "data": {"values": [{"a": -0.1019, "b": 1}]}, "mark": {"type": "rule", "color": "#a9b0bd", "strokeWidth": 1.2}, "encoding": {"x": {"field": "a", "type": "quantitative", "scale": {"domain": [0, 1]}, "axis": null}, "x2": {"field": "b"}, "y": {"datum": 0, "type": "quantitative", "scale": {"domain": [0, 1]}, "axis": null}}},
        {
          "width": 333, "height": 172,
          "title": {"text": "Investment to reach >2% of GDP by 2032 in 1.5°C scenario", "subtitle": "Ann. infra. investment for net zero by 2050, $tn; as % GDP (rhs)", "subtitleFontSize": 14},
          "data": {"values": [
            {"yr": 2021, "k1": 548, "k2": 75, "k3": 20, "k4": 21, "k5": 16, "k6": 7, "k7": 7, "k8": 9, "k9": 7, "gdp": 0.815},
            {"yr": 2022, "k1": 582, "k2": 82, "k3": 15, "k4": 20, "k5": 35, "k6": 15, "k7": 15, "k8": 20, "k9": 16, "gdp": 0.855},
            {"yr": 2023, "k1": 670, "k2": 87, "k3": 25, "k4": 28, "k5": 37, "k6": 16, "k7": 16, "k8": 21, "k9": 15, "gdp": 0.97},
            {"yr": 2024, "k1": 722, "k2": 105, "k3": 30, "k4": 40, "k5": 31, "k6": 13, "k7": 13, "k8": 18, "k9": 13, "gdp": 1.025},
            {"yr": 2025, "k1": 810, "k2": 134, "k3": 35, "k4": 52, "k5": 24, "k6": 10, "k7": 10, "k8": 14, "k9": 11, "gdp": 1.105},
            {"yr": 2026, "k1": 955, "k2": 152, "k3": 40, "k4": 59, "k5": 21, "k6": 9, "k7": 9, "k8": 12, "k9": 8, "gdp": 1.26},
            {"yr": 2027, "k1": 1043, "k2": 180, "k3": 40, "k4": 59, "k5": 35, "k6": 47, "k7": 19, "k8": 28, "k9": 29, "gdp": 1.41},
            {"yr": 2028, "k1": 1160, "k2": 220, "k3": 40, "k4": 77, "k5": 58, "k6": 79, "k7": 32, "k8": 47, "k9": 47, "gdp": 1.61},
            {"yr": 2029, "k1": 1217, "k2": 233, "k3": 45, "k4": 101, "k5": 68, "k6": 93, "k7": 37, "k8": 56, "k9": 55, "gdp": 1.73},
            {"yr": 2030, "k1": 1322, "k2": 250, "k3": 50, "k4": 137, "k5": 73, "k6": 99, "k7": 40, "k8": 60, "k9": 59, "gdp": 1.865},
            {"yr": 2031, "k1": 1363, "k2": 279, "k3": 55, "k4": 132, "k5": 87, "k6": 119, "k7": 48, "k8": 71, "k9": 71, "gdp": 1.945},
            {"yr": 2032, "k1": 1497, "k2": 332, "k3": 60, "k4": 190, "k5": 96, "k6": 131, "k7": 52, "k8": 78, "k9": 79, "gdp": 2.155},
            {"yr": 2033, "k1": 1543, "k2": 391, "k3": 60, "k4": 202, "k5": 102, "k6": 139, "k7": 56, "k8": 84, "k9": 83, "gdp": 2.225},
            {"yr": 2034, "k1": 1526, "k2": 419, "k3": 60, "k4": 220, "k5": 116, "k6": 158, "k7": 63, "k8": 94, "k9": 94, "gdp": 2.24},
            {"yr": 2035, "k1": 1526, "k2": 419, "k3": 60, "k4": 231, "k5": 125, "k6": 171, "k7": 68, "k8": 102, "k9": 103, "gdp": 2.225},
            {"yr": 2036, "k1": 1572, "k2": 420, "k3": 60, "k4": 231, "k5": 141, "k6": 193, "k7": 77, "k8": 116, "k9": 115, "gdp": 2.27},
            {"yr": 2037, "k1": 1468, "k2": 407, "k3": 60, "k4": 232, "k5": 147, "k6": 200, "k7": 80, "k8": 120, "k9": 121, "gdp": 2.11},
            {"yr": 2038, "k1": 1334, "k2": 366, "k3": 60, "k4": 232, "k5": 147, "k6": 200, "k7": 80, "k8": 120, "k9": 121, "gdp": 1.96},
            {"yr": 2039, "k1": 1293, "k2": 349, "k3": 60, "k4": 203, "k5": 160, "k6": 218, "k7": 87, "k8": 130, "k9": 130, "gdp": 1.905},
            {"yr": 2040, "k1": 1206, "k2": 308, "k3": 60, "k4": 243, "k5": 145, "k6": 197, "k7": 79, "k8": 118, "k9": 119, "gdp": 1.77},
            {"yr": 2041, "k1": 1072, "k2": 291, "k3": 60, "k4": 231, "k5": 108, "k6": 297, "k7": 54, "k8": 108, "k9": 109, "gdp": 1.63},
            {"yr": 2042, "k1": 868, "k2": 239, "k3": 60, "k4": 242, "k5": 104, "k6": 286, "k7": 52, "k8": 104, "k9": 105, "gdp": 1.36},
            {"yr": 2043, "k1": 641, "k2": 174, "k3": 60, "k4": 214, "k5": 99, "k6": 273, "k7": 50, "k8": 99, "k9": 100, "gdp": 1.12},
            {"yr": 2044, "k1": 518, "k2": 146, "k3": 55, "k4": 213, "k5": 95, "k6": 261, "k7": 47, "k8": 95, "k9": 95, "gdp": 0.99},
            {"yr": 2045, "k1": 536, "k2": 128, "k3": 50, "k4": 218, "k5": 92, "k6": 254, "k7": 46, "k8": 93, "k9": 93, "gdp": 0.955},
            {"yr": 2046, "k1": 565, "k2": 134, "k3": 50, "k4": 194, "k5": 93, "k6": 256, "k7": 47, "k8": 93, "k9": 93, "gdp": 0.93},
            {"yr": 2047, "k1": 478, "k2": 99, "k3": 45, "k4": 164, "k5": 93, "k6": 255, "k7": 46, "k8": 92, "k9": 93, "gdp": 0.80},
            {"yr": 2048, "k1": 448, "k2": 88, "k3": 40, "k4": 164, "k5": 86, "k6": 238, "k7": 43, "k8": 86, "k9": 87, "gdp": 0.73},
            {"yr": 2049, "k1": 448, "k2": 88, "k3": 40, "k4": 146, "k5": 84, "k6": 230, "k7": 42, "k8": 84, "k9": 83, "gdp": 0.68},
            {"yr": 2050, "k1": 466, "k2": 82, "k3": 40, "k4": 122, "k5": 90, "k6": 249, "k7": 45, "k8": 90, "k9": 91, "gdp": 0.65}]},
          "encoding": {"x": {"field": "yr", "type": "ordinal", "scale": {"paddingInner": 0.3, "paddingOuter": 0.15}, "axis": {"values": [2021, 2025, 2029, 2033, 2037, 2041, 2045, 2049], "title": null, "labelAngle": 0, "labelFontSize": 13.5, "ticks": false, "labelPadding": 6}}},
          "resolve": {"scale": {"y": "independent"}},
          "layer": [
            {"transform": [{"fold": ["k1", "k2", "k3", "k4", "k5", "k6", "k7", "k8", "k9"], "as": ["series", "val"]}],
             "mark": {"type": "bar"},
             "encoding": {
               "y": {"field": "val", "type": "quantitative", "stack": "zero", "scale": {"domain": [0, 3000]}, "axis": {"values": [0, 1000, 2000, 3000], "title": null, "labelFontSize": 13.5, "labelPadding": 0, "labelExpr": "datum.value == 0 ? '-' : format(datum.value, ',')"}},
               "order": {"field": "series", "sort": "ascending"},
               "color": {"field": "series", "type": "nominal", "scale": {"domain": ["k9", "k7", "k5", "k3", "k1", "k8", "k6", "k4", "k2"], "range": ["#dcdcdc", "#a6a6a6", "#b8cce4", "#7f99bf", "#c00000", "#c4c4c4", "#7f7f7f", "#1f3d63", "#f0787e"]},
                 "legend": {"orient": "none", "legendX": -25, "legendY": -66, "title": null, "columns": 2, "columnPadding": 30, "symbolType": "M-2.5,-0.45L2.5,-0.45L2.5,0.45L-2.5,0.45Z", "symbolSize": 121, "symbolOpacity": 1, "symbolStrokeWidth": 0, "labelFontSize": 11.5, "rowPadding": -3, "labelOffset": 15, "labelLimit": 300,
                   "labelExpr": "{'k1': 'Power generation', 'k2': 'Power networks', 'k3': 'Energy storage (batteries)', 'k4': 'EV and FCEV charging stations', 'k5': 'Biorefineries', 'k6': 'Industry (incl. CCUS)', 'k7': 'Hydrogen plants', 'k8': 'Building upgrades/retrofits', 'k9': 'DACCS'}[datum.label]"}}
             }},
            {"mark": {"type": "line", "color": "#111", "strokeWidth": 2.5},
             "encoding": {
               "y": {"field": "gdp", "type": "quantitative", "scale": {"domain": [0, 3]}, "axis": {"orient": "right", "values": [0, 1, 2, 3], "title": null, "labelFontSize": 13.5, "labelExpr": "datum.value + '%'"}},
               "strokeDash": {"datum": "as a % of global GDP - RHS", "type": "nominal", "scale": {"range": [[6, 4]]},
                 "legend": {"orient": "none", "legendX": 172, "legendY": -21, "title": null, "symbolType": "M-2.5,0L2.5,0", "symbolSize": 121, "symbolStrokeColor": "#111", "symbolStrokeWidth": 2.5, "labelFontSize": 11.5, "labelOffset": 15}}
             }}
          ]
        }
      ]
    }
  ]
}
